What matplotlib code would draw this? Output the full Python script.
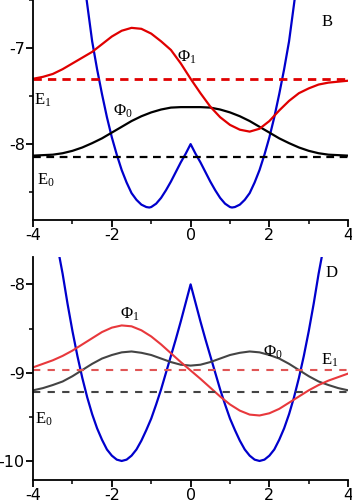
import numpy as np
import matplotlib.pyplot as plt
from matplotlib.ticker import MultipleLocator

plt.rcParams['font.family'] = ['DejaVu Sans']
plt.rcParams['mathtext.fontset'] = 'custom'
plt.rcParams['mathtext.rm'] = 'Liberation Serif'
plt.rcParams['mathtext.it'] = 'Liberation Serif'

# ---- panel B (top) ----
# potential, right half, mirrored for the left half
xB_half = [0.0, 0.125, 0.25, 0.375, 0.5, 0.625, 0.75, 0.875, 1.0, 1.05, 1.125, 1.25, 1.375, 1.5,
           1.625, 1.75, 1.875, 2.0, 2.125, 2.25, 2.375, 2.5, 2.64]
vB_half = [-8.0, -8.10, -8.19, -8.29, -8.39, -8.48, -8.56, -8.62, -8.655, -8.66, -8.655, -8.63, -8.58, -8.51,
           -8.40, -8.27, -8.11, -7.93, -7.72, -7.48, -7.22, -6.93, -6.5]

xB_phi0 = [-4.0, -3.75, -3.5, -3.25, -3.0, -2.75, -2.5, -2.25, -2.0, -1.75, -1.5, -1.25, -1.0, -0.75,
           -0.5, -0.25, 0.0, 0.25, 0.5, 0.75, 1.0, 1.25, 1.5, 1.75, 2.0, 2.25, 2.5, 2.75, 3.0, 3.25,
           3.5, 3.75, 4.0]
vB_phi0 = [-8.12, -8.115, -8.11, -8.095, -8.07, -8.035, -7.99, -7.94, -7.88, -7.82, -7.76, -7.71, -7.67, -7.64,
           -7.62, -7.615, -7.615, -7.615, -7.62, -7.64, -7.67, -7.71, -7.76, -7.82, -7.88, -7.94, -7.99, -8.035,
           -8.07, -8.095, -8.11, -8.115, -8.12]

xB_phi1 = [-4.0, -3.75, -3.5, -3.25, -3.0, -2.75, -2.5, -2.25, -2.0, -1.75, -1.5, -1.25, -1.0, -0.75,
           -0.5, -0.25, 0.0, 0.25, 0.5, 0.75, 1.0, 1.25, 1.5, 1.75, 2.0, 2.25, 2.5, 2.75, 3.0, 3.25,
           3.5, 3.75, 4.0]
vB_phi1 = [-7.32, -7.30, -7.27, -7.22, -7.16, -7.10, -7.04, -6.96, -6.88, -6.82, -6.79, -6.80, -6.85, -6.93,
           -7.02, -7.16, -7.32, -7.47, -7.61, -7.72, -7.80, -7.85, -7.87, -7.84, -7.76, -7.65, -7.55, -7.47,
           -7.42, -7.38, -7.36, -7.35, -7.34]

E0_B = -8.13
E1_B = -7.32

# ---- panel D (bottom) ----
xD_half = [0.0, 0.125, 0.25, 0.375, 0.5, 0.625, 0.75, 0.875, 1.0, 1.125, 1.25, 1.375, 1.5, 1.625, 1.75,
           1.875, 2.0, 2.125, 2.25, 2.375, 2.5, 2.625, 2.75, 2.875, 3.0, 3.125, 3.25, 3.33]
vD_half = [-8.0, -8.21, -8.42, -8.62, -8.81, -9.00, -9.19, -9.36, -9.52, -9.65, -9.77, -9.87, -9.94, -9.985, -10.0,
           -9.985, -9.94, -9.87, -9.76, -9.63, -9.47, -9.28, -9.06, -8.81, -8.53, -8.22, -7.88, -7.69]

xD_phi0 = [-4.0, -3.75, -3.5, -3.25, -3.0, -2.75, -2.5, -2.25, -2.0, -1.75, -1.5, -1.25, -1.0, -0.75,
           -0.5, -0.25, 0.0, 0.25, 0.5, 0.75, 1.0, 1.25, 1.5, 1.75, 2.0, 2.25, 2.5, 2.75, 3.0, 3.25,
           3.5, 3.75, 4.0]
vD_phi0 = [-9.20, -9.175, -9.14, -9.10, -9.04, -8.97, -8.90, -8.84, -8.80, -8.77, -8.76, -8.775, -8.80, -8.84,
           -8.88, -8.91, -8.92, -8.91, -8.88, -8.84, -8.80, -8.775, -8.76, -8.77, -8.80, -8.84, -8.90, -8.97,
           -9.04, -9.10, -9.14, -9.175, -9.20]

xD_phi1 = xD_phi0
vD_phi1 = [-8.94, -8.90, -8.86, -8.81, -8.75, -8.68, -8.61, -8.54, -8.49, -8.465, -8.475, -8.52, -8.59, -8.68,
           -8.78, -8.88, -8.975, -9.07, -9.17, -9.27, -9.36, -9.43, -9.475, -9.485, -9.46, -9.41, -9.34, -9.27,
           -9.20, -9.14, -9.09, -9.05, -9.01]

E0_D = -9.22
E1_D = -8.975

xB_pot = [-v for v in xB_half[::-1]] + xB_half[1:]
vB_pot = vB_half[::-1] + vB_half[1:]
xD_pot = [-v for v in xD_half[::-1]] + xD_half[1:]
vD_pot = vD_half[::-1] + vD_half[1:]

fig = plt.figure(figsize=(3.52, 5.0), dpi=100)
ax1 = fig.add_axes([0.094, 0.56, 0.895, 0.44])
ax2 = fig.add_axes([0.094, 0.041, 0.895, 0.445])

blue = '#0000cc'

# top panel
ax1.plot(xB_pot, vB_pot, color=blue, lw=1.6)
ax1.plot(xB_phi0, vB_phi0, color='black', lw=1.6)
ax1.plot(xB_phi1, vB_phi1, color='#e00000', lw=1.6)
ax1.axhline(E1_B, color='#e00000', lw=2.0, dashes=(3, 2.2))
ax1.axhline(E0_B, color='black', lw=1.6, dashes=(3.5, 2.5))
ax1.set_xlim(-4, 4)
ax1.set_ylim(-8.79, -6.5)
ax1.yaxis.set_major_locator(MultipleLocator(1))
ax1.yaxis.set_minor_locator(MultipleLocator(0.5))

ax1.text(3.47, -6.73, 'B', family='Liberation Serif', fontsize=12, ha='center', va='center')
ax1.text(-0.09, -7.09, r'$\Phi_1$', fontsize=12, ha='center', va='center')
ax1.text(-1.71, -7.66, r'$\Phi_0$', fontsize=12, ha='center', va='center')
ax1.text(-3.75, -7.54, r'$\mathrm{E}_1$', fontsize=12, ha='center', va='center')
ax1.text(-3.67, -8.37, r'$\mathrm{E}_0$', fontsize=12, ha='center', va='center')

# bottom panel
ax2.plot(xD_pot, vD_pot, color=blue, lw=1.6)
ax2.plot(xD_phi0, vD_phi0, color='#444444', lw=1.5)
ax2.plot(xD_phi1, vD_phi1, color='#e8383c', lw=1.5)
ax2.axhline(E1_D, color='#e05555', lw=1.5, dashes=(3.5, 3.5))
ax2.axhline(E0_D, color='#444444', lw=1.5, dashes=(3.5, 3.5))
ax2.set_xlim(-4, 4)
ax2.set_ylim(-10.21, -7.69)
ax2.yaxis.set_major_locator(MultipleLocator(1))
ax2.yaxis.set_minor_locator(MultipleLocator(0.5))

ax2.text(3.59, -7.87, 'D', family='Liberation Serif', fontsize=12, ha='center', va='center')
ax2.text(-1.54, -8.33, r'$\Phi_1$', fontsize=12, ha='center', va='center')
ax2.text(2.10, -8.77, r'$\Phi_0$', fontsize=12, ha='center', va='center')
ax2.text(3.54, -8.86, r'$\mathrm{E}_1$', fontsize=12, ha='center', va='center')
ax2.text(-3.72, -9.52, r'$\mathrm{E}_0$', fontsize=12, ha='center', va='center')

for ax in (ax1, ax2):
    ax.spines['top'].set_visible(False)
    ax.spines['right'].set_visible(False)
    ax.spines['left'].set_linewidth(1.3)
    ax.spines['bottom'].set_linewidth(1.3)
    ax.xaxis.set_major_locator(MultipleLocator(2))
    ax.xaxis.set_minor_locator(MultipleLocator(1))
    ax.yaxis.set_major_formatter(plt.FuncFormatter(lambda v, p: '%d' % v))
    ax.xaxis.set_major_formatter(plt.FuncFormatter(lambda v, p: '%d' % v))
    ax.tick_params(which='major', direction='out', length=5, width=1.3, labelsize=11.5, pad=1)
    ax.tick_params(which='minor', direction='out', length=3, width=1.1)
    ax.patch.set_alpha(0)

fig.savefig('out.png', dpi=100)
